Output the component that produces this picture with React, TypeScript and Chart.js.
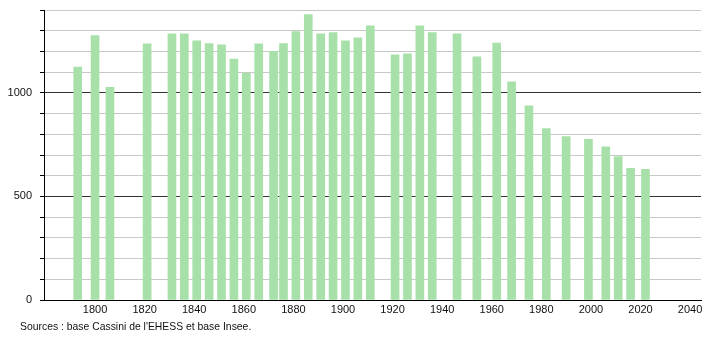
import React, { useEffect, useRef } from "react";
import { Chart, registerables } from "chart.js";

Chart.register(...registerables);

const years = [1793, 1800, 1806, 1821, 1831, 1836, 1841, 1846, 1851, 1856, 1861, 1866, 1872, 1876, 1881, 1886, 1891, 1896, 1901, 1906, 1911, 1921, 1926, 1931, 1936, 1946, 1954, 1962, 1968, 1975, 1982, 1990, 1999, 2006, 2011, 2016, 2022];
const population = [1125, 1277, 1027, 1237, 1285, 1285, 1251, 1238, 1232, 1163, 1095, 1237, 1201, 1238, 1296, 1378, 1285, 1291, 1251, 1266, 1324, 1184, 1188, 1324, 1291, 1285, 1174, 1240, 1053, 937, 828, 789, 776, 739, 692, 636, 631];
const xTickYears = [1800, 1820, 1840, 1860, 1880, 1900, 1920, 1940, 1960, 1980, 2000, 2020, 2040];
const yLabelValues = [0, 500, 1000];
const caption = "Sources : base Cassini de l'EHESS et base Insee.";

export default function App() {
  const canvasRef = useRef<HTMLCanvasElement | null>(null);

  useEffect(() => {
    const canvas = canvasRef.current;
    if (!canvas) return;
    const chart = new Chart(canvas, {
      type: "bar",
      data: {
        datasets: [
          {
            data: years.map((y, i) => ({ x: y, y: population[i] })),
            backgroundColor: "rgb(168,224,170)",
            borderWidth: 0,
            barThickness: 8,
          },
        ],
      },
      options: {
        responsive: false,
        animation: false,
        layout: { padding: { left: 0, top: 10, right: 9, bottom: 0 } },
        plugins: { legend: { display: false }, tooltip: { enabled: false } },
        scales: {
          x: {
            type: "linear",
            offset: false,
            min: 1779.4,
            max: 2044.4,
            afterFit: (scale: any) => {
              scale.height = 40;
              scale.paddingLeft = 0;
              scale.paddingRight = 0;
            },
            afterBuildTicks: (scale: any) => {
              scale.ticks = xTickYears.map((v) => ({ value: v }));
            },
            grid: { display: false, drawTicks: false, offset: false },
            border: { display: true, color: "#000", width: 1 },
            ticks: {
              padding: 3,
              autoSkip: false,
              maxRotation: 0,
              color: "#111",
              font: { family: "'Liberation Sans', Arial, sans-serif", size: 11 },
              callback: (v: any) => String(v),
            },
          },
          y: {
            min: 0,
            max: 1400,
            afterFit: (scale: any) => {
              scale.width = 44;
              scale.paddingTop = 0;
              scale.paddingBottom = 0;
            },
            ticks: {
              stepSize: 100,
              padding: 8,
              color: "#111",
              font: { family: "'Liberation Sans', Arial, sans-serif", size: 11 },
              callback: (v: any) => (yLabelValues.includes(Number(v)) ? String(v) : ""),
            },
            grid: {
              color: (ctx: any) => (ctx.tick && ctx.tick.value % 500 === 0 ? "#333" : "#c8c8c8"),
              tickColor: "#000",
              tickLength: 4,
              lineWidth: 1,
            },
            border: { display: true, color: "#000", width: 1 },
          },
        },
      },
    });
    return () => chart.destroy();
  }, []);

  return (
    <div style={{ position: "absolute", left: 0, top: 0, width: 710, height: 340, background: "#fff" }}>
      <canvas ref={canvasRef} width={710} height={340} style={{ display: "block" }} />
      <div
        style={{
          position: "absolute",
          left: 20,
          top: 321,
          fontFamily: "'Liberation Sans', Arial, sans-serif",
          fontSize: 10.4,
          color: "#111",
          whiteSpace: "nowrap",
        }}
      >
        {caption}
      </div>
    </div>
  );
}
